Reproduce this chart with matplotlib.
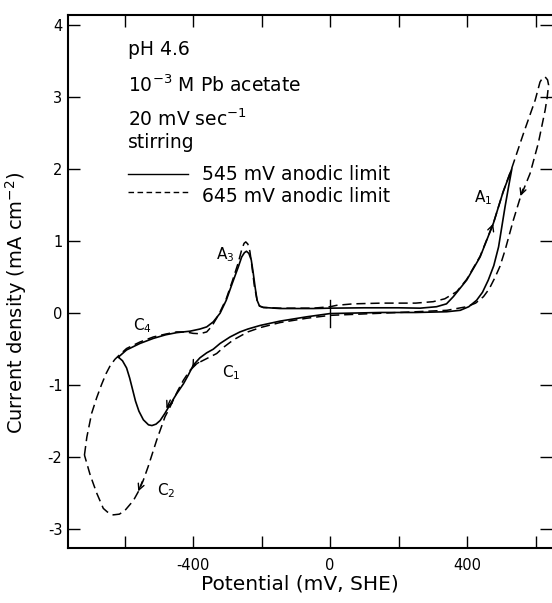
import matplotlib
matplotlib.use("Agg")
import matplotlib.pyplot as plt

plt.rcParams['font.family'] = ['DejaVu Sans']
plt.rcParams['mathtext.default'] = 'regular'
plt.rcParams['axes.unicode_minus'] = False

# 545 mV anodic limit (solid), potential in mV vs SHE, current in mA cm^-2
solid_mv = [-618, -594, -555, -516, -480, -448, -409, -380, -360, -341, -321, -303,
            -285, -268, -258, -250, -244, -237, -230, -224, -219, -213, -206, -195,
            -146, -49, 0, 100, 200, 263, 311, 340, 360, 399, 438, 477, 505, 531,
            521, 511, 492, 478, 462, 445, 428, 405, 380, 340, 250, 150, 50, 0,
            -68, -146, -204, -240, -263, -292, -321, -341, -360, -380, -399, -414,
            -428, -448, -466, -482, -496, -508, -520, -530, -545, -558, -568, -577,
            -585, -594, -606, -618]
solid_ma = [-0.61, -0.51, -0.42, -0.35, -0.30, -0.27, -0.25, -0.22, -0.19, -0.12, 0.00, 0.18,
            0.42, 0.64, 0.78, 0.84, 0.86, 0.83, 0.74, 0.55, 0.37, 0.18, 0.10, 0.08,
            0.065, 0.065, 0.07, 0.075, 0.075, 0.07, 0.09, 0.13, 0.23, 0.46, 0.78, 1.25, 1.68, 2.01,
            1.75, 1.48, 0.92, 0.66, 0.46, 0.29, 0.18, 0.09, 0.04, 0.02, 0.01, 0.01, 0.0, -0.005,
            -0.05, -0.11, -0.17, -0.22, -0.26, -0.33, -0.42, -0.50, -0.55, -0.62, -0.72, -0.86,
            -0.98, -1.12, -1.26, -1.39, -1.49, -1.54, -1.56, -1.55, -1.48, -1.36, -1.22, -1.05,
            -0.90, -0.76, -0.66, -0.61]

# 645 mV anodic limit (dashed)
dash_mv = [-717, -710, -696, -681, -667, -654, -642, -628, -615, -594, -555, -516,
           -480, -448, -420, -400, -380, -360, -345, -330, -321, -303, -285, -268,
           -258, -251, -246, -240, -234, -228, -221, -213, -206, -195, -146, -49,
           0, 20, 68, 150, 250, 301, 335, 370, 399, 438, 477, 505, 531, 565, 599,
           613, 621, 628, 635, 638, 634, 628, 608, 584, 555, 535, 511, 496, 482,
           465, 448, 425, 399, 341, 250, 150, 50, 0, -68, -146, -204, -240, -282,
           -310, -331, -360, -389, -410, -428, -445, -458, -470, -482, -506, -531,
           -546, -560, -574, -599, -615, -633, -650, -662, -681, -700, -717]
dash_ma = [-1.97, -1.72, -1.39, -1.17, -0.99, -0.84, -0.73, -0.64, -0.58, -0.49, -0.40, -0.33,
           -0.29, -0.26, -0.26, -0.28, -0.285, -0.26, -0.18, -0.06, 0.02, 0.20, 0.45, 0.70,
           0.88, 0.97, 0.99, 0.96, 0.86, 0.65, 0.38, 0.18, 0.10, 0.08, 0.07, 0.07,
           0.09, 0.11, 0.13, 0.14, 0.14, 0.16, 0.20, 0.30, 0.47, 0.79, 1.25, 1.68, 2.02, 2.50, 2.96,
           3.21, 3.27, 3.28, 3.24, 3.17, 3.00, 2.82, 2.36, 1.94, 1.60, 1.29, 0.875, 0.65, 0.50,
           0.34, 0.23, 0.14, 0.09, 0.04, 0.02, 0.0, -0.02, -0.03, -0.07, -0.13, -0.20, -0.26, -0.37,
           -0.47, -0.56, -0.63, -0.70, -0.80, -0.93, -1.08, -1.21, -1.33, -1.44, -1.76, -2.13,
           -2.33, -2.48, -2.60, -2.74, -2.79, -2.80, -2.76, -2.71, -2.50, -2.25, -1.97]

x_ticks = [-600, -400, -200, 0, 200, 400, 600]
x_labels = ['', '-400', '', '0', '', '400', '']
y_ticks = [-3, -2, -1, 0, 1, 2, 3, 4]

# peak names: (label, potential, current)
peak_names = [('A$_3$', -307, 0.81), ('A$_1$', 447, 1.60), ('C$_4$', -549, -0.17),
              ('C$_1$', -289, -0.83), ('C$_2$', -479, -2.46)]

# sweep direction arrows: (tail mv, tail ma, head mv, head ma)
sweep_arrows = [(468, 1.13, 479, 1.28), (566, 1.76, 553, 1.59), (-545, -2.30, -563, -2.51),
                (-463, -1.17, -481, -1.36), (-392, -0.67, -406, -0.79)]

fig = plt.figure(figsize=(5.52, 6.03), dpi=100)
ax = fig.add_axes([0.1232, 0.0912, 0.8768, 0.8839])

ax.plot(solid_mv, solid_ma, color='black', lw=1.2)
ax.plot(dash_mv, dash_ma, color='black', lw=1.1, ls=(0, (6, 3.2)))

# small cross mark at the origin
ax.plot([0, 0], [-0.19, 0.18], color='black', lw=1.0)

for tail_x, tail_y, head_x, head_y in sweep_arrows:
    ax.annotate('', xy=(head_x, head_y), xytext=(tail_x, tail_y),
                arrowprops=dict(arrowstyle='->', color='black', lw=1.0, mutation_scale=11))

for name, px, py in peak_names:
    ax.text(px, py, name, fontsize=11, ha='center', va='center')

# condition notes and line key
ax.text(-590, 3.58, 'pH 4.6', fontsize=13.5, va='baseline')
ax.text(-590, 3.07, '10$^{-3}$ M Pb acetate', fontsize=13.5, va='baseline')
ax.text(-590, 2.60, '20 mV sec$^{-1}$', fontsize=13.5, va='baseline')
ax.text(-590, 2.30, 'stirring', fontsize=13.5, va='baseline')
ax.plot([-590, -415], [1.93, 1.93], color='black', lw=1.0)
ax.plot([-590, -415], [1.68, 1.68], color='black', lw=1.0, ls=(0, (4, 2.5)))
ax.text(-375, 1.85, '545 mV anodic limit', fontsize=13.5, va='baseline')
ax.text(-375, 1.54, '645 mV anodic limit', fontsize=13.5, va='baseline')

ax.set_xlim(-765, 648)
ax.set_ylim(-3.26, 4.14)
ax.set_xticks(x_ticks)
ax.set_xticklabels(x_labels)
ax.set_yticks(y_ticks)
ax.tick_params(direction='in', length=8.5, width=1.0, top=True, right=True,
               labelsize=10.5, pad=4)
ax.tick_params(axis='x', pad=7)
for side in ['left', 'bottom', 'top']:
    ax.spines[side].set_linewidth(1.5)
ax.spines['right'].set_visible(False)

ax.set_xlabel('Potential (mV, SHE)', fontsize=14.5)
ax.set_ylabel('Current density (mA cm$^{-2}$)', fontsize=14)
ax.xaxis.set_label_coords(0.48, -0.05)
ax.yaxis.set_label_coords(-0.08, 0.46)

plt.savefig('out.png', dpi=100)
